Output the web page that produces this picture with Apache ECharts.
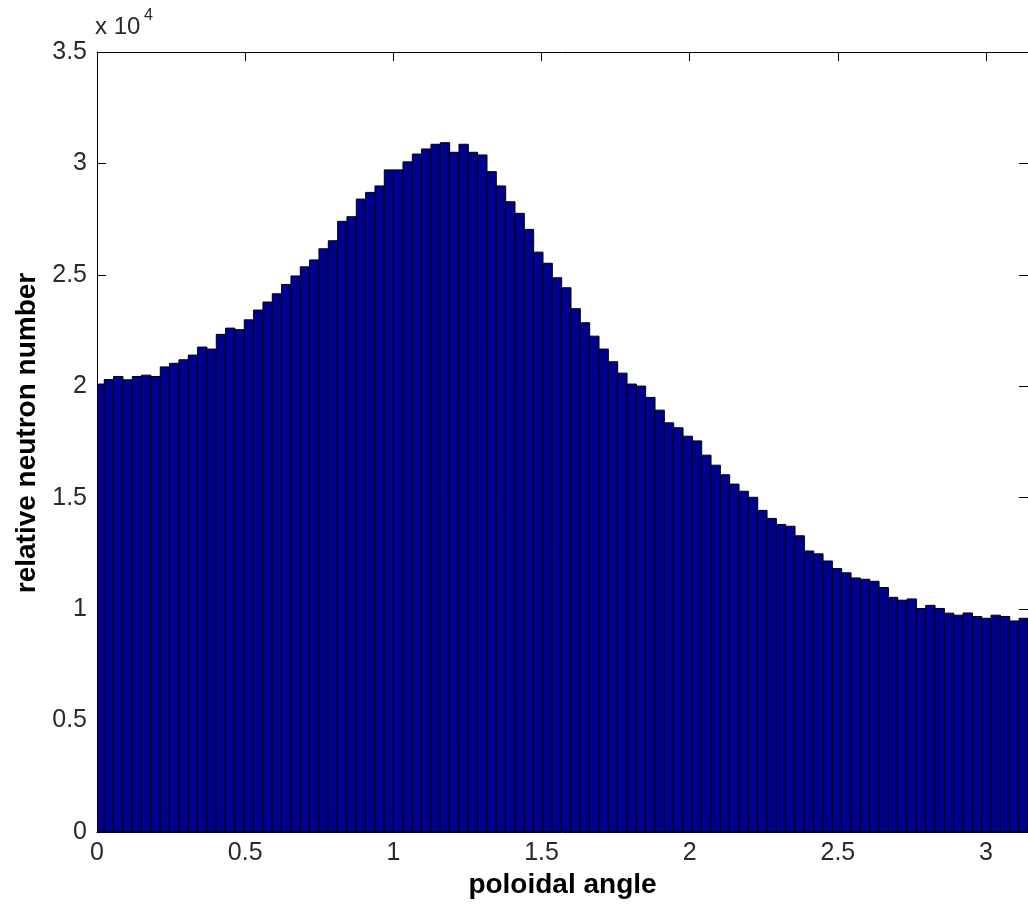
<!DOCTYPE html>
<html>
<head>
<meta charset="utf-8">
<script src="https://cdn.jsdelivr.net/npm/echarts@6/dist/echarts.min.js"></script>
<style>
html,body{margin:0;padding:0;background:#fff;}
#chart{width:1028px;height:909px;}
</style>
</head>
<body>
<div id="chart"></div>
<script>
// Histogram bin definition (poloidal angle, rad)
const binStart = -0.007;
const binWidth = 0.0315;
// Counts per bin (relative neutron number)
const counts = [
  20100, 20300, 20440, 20290, 20440, 20500, 20440, 20870, 21030, 21190,
  21400, 21760, 21670, 22330, 22610, 22540, 22980, 23420, 23780, 24150,
  24570, 24950, 25360, 25670, 26170, 26530, 27400, 27610, 28400, 28700,
  28990, 29710, 29710, 30070, 30420, 30650, 30860, 30930, 30500, 30860,
  30500, 30380, 29630, 28990, 28280, 27760, 27040, 26020, 25520, 24870,
  24420, 23480, 22850, 22250, 21670, 21100, 20590, 20100, 20010, 19500,
  18930, 18360, 18140, 17760, 17550, 16910, 16460, 16030, 15610, 15290,
  15020, 14430, 14070, 13800, 13720, 13290, 12610, 12480, 12160, 11820,
  11630, 11400, 11340, 11250, 10970, 10530, 10400, 10460, 10030, 10170,
  10030,  9820,  9730,  9830,  9670,  9590,  9730,  9670,  9470,  9590
];
const xTicks = [0, 0.5, 1, 1.5, 2, 2.5, 3];
const yTickLabels = ['0', '0.5', '1', '1.5', '2', '2.5', '3', '3.5'];
const xTitle = 'poloidal angle';
const yTitle = 'relative neutron number';
const yScaleNote = 'x 10';
const yScaleExp = '4';

const xMin = 0, xMax = Math.PI;
const yMin = 0, yMax = 35000, yStep = 5000;

const data = counts.map((c, i) => [binStart + i * binWidth, binStart + (i + 1) * binWidth, c]);

const fontFam = '"Liberation Sans", Arial, sans-serif';
const lineCol = '#000';
const tickCommon = {show: true, inside: true, length: 9, lineStyle: {color: lineCol, width: 1}};

const chart = echarts.init(document.getElementById('chart'), null, {renderer: 'canvas'});
chart.setOption({
  backgroundColor: '#fff',
  animation: false,
  grid: {left: 97, right: -5, top: 52, bottom: 77, containLabel: false},
  xAxis: [{
    type: 'value', min: xMin, max: xMax, interval: 0.5,
    axisLine: {show: true, onZero: false, lineStyle: {color: lineCol, width: 1}},
    axisTick: tickCommon,
    splitLine: {show: false},
    axisLabel: {
      margin: 9, color: '#2a2a2a', fontSize: 25, fontFamily: fontFam,
      showMaxLabel: false,
      formatter: v => {
        const k = xTicks.findIndex(t => Math.abs(t - v) < 1e-6);
        return k >= 0 ? String(xTicks[k]) : '';
      }
    },
    name: xTitle, nameLocation: 'middle', nameGap: 39,
    nameTextStyle: {color: '#000', fontSize: 28, fontWeight: 'bold', fontFamily: fontFam}
  }, {
    type: 'value', min: xMin, max: xMax, interval: 0.5, position: 'top',
    axisLine: {show: true, onZero: false, lineStyle: {color: lineCol, width: 1}},
    axisTick: tickCommon, axisLabel: {show: false}, splitLine: {show: false}
  }],
  yAxis: [{
    type: 'value', min: yMin, max: yMax, interval: yStep,
    axisLine: {show: true, onZero: false, lineStyle: {color: lineCol, width: 1}},
    axisTick: tickCommon,
    splitLine: {show: false},
    axisLabel: {
      margin: 10, color: '#2a2a2a', fontSize: 25, fontFamily: fontFam,
      formatter: v => yTickLabels[Math.round(v / yStep)]
    },
    name: yTitle, nameLocation: 'middle', nameGap: 51,
    nameTextStyle: {color: '#000', fontSize: 28, fontWeight: 'bold', fontFamily: fontFam, padding: [0, 0, 0, 18]}
  }, {
    type: 'value', min: yMin, max: yMax, interval: yStep, position: 'right',
    axisLine: {show: true, onZero: false, lineStyle: {color: lineCol, width: 1}},
    axisTick: tickCommon, axisLabel: {show: false}, splitLine: {show: false}
  }],
  graphic: [
    {type: 'text', left: 95, top: 15, style: {text: yScaleNote, fill: '#2a2a2a', font: '24px "Liberation Sans", Arial, sans-serif'}},
    {type: 'text', left: 144, top: 8, style: {text: yScaleExp, fill: '#2a2a2a', font: '16px "Liberation Sans", Arial, sans-serif'}}
  ],
  series: [{
    type: 'custom',
    clip: true,
    xAxisIndex: 0, yAxisIndex: 0,
    data: data,
    encode: {x: [0, 1], y: 2},
    renderItem: function (params, api) {
      const p0 = api.coord([api.value(0), api.value(2)]);
      const p1 = api.coord([api.value(1), 0]);
      const rect = {x: p0[0], y: p0[1], width: p1[0] - p0[0], height: p1[1] - p0[1]};
      const clipped = echarts.graphic.clipRectByRect(rect, {
        x: params.coordSys.x, y: params.coordSys.y,
        width: params.coordSys.width, height: params.coordSys.height
      });
      if (!clipped) return;
      return {
        type: 'rect',
        shape: clipped,
        style: {fill: '#00008F', stroke: '#000', lineWidth: 1}
      };
    }
  }]
});
</script>
</body>
</html>
